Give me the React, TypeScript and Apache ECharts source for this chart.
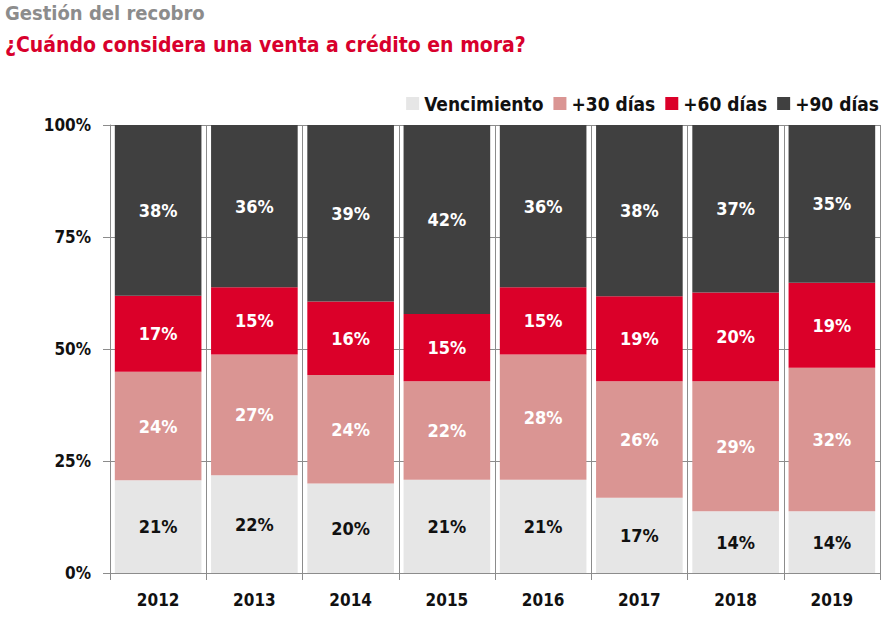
import React, { useEffect, useRef } from "react";
import * as echarts from "echarts";

const years = ["2012", "2013", "2014", "2015", "2016", "2017", "2018", "2019"];
const vencimiento = [20.7, 21.8, 20.0, 20.8, 20.8, 16.8, 13.8, 13.8];
const dias30 = [24.2, 27.0, 24.2, 22.0, 28.0, 26.0, 29.0, 32.0];
const dias60 = [17.0, 15.0, 16.4, 15.0, 15.0, 19.0, 19.8, 19.0];
const dias90 = [38.1, 36.2, 39.4, 42.2, 36.2, 38.2, 37.4, 35.2];
const yTicks = [0, 25, 50, 75, 100];

const FONT = "'Liberation Sans Narrow', 'DejaVu Sans Condensed', sans-serif";

export default function App() {
  const ref = useRef<HTMLDivElement>(null);
  useEffect(() => {
    document.body.style.margin = "0";
    if (!ref.current) return;
    const chart = echarts.init(ref.current, null, { renderer: "svg" });
    const mk = (name: string, data: number[], color: string, labelColor: string) => ({
      name,
      type: "bar",
      stack: "total",
      data,
      barWidth: "90%",
      itemStyle: { color },
      label: {
        show: true,
        position: "inside",
        color: labelColor,
        fontFamily: FONT,
        fontWeight: "bold",
        fontSize: 18,
        formatter: (p: any) => Math.round(p.value) + "%",
      },
    });
    chart.setOption({
      animation: false,
      textStyle: { fontFamily: FONT },
      title: [
        {
          text: "Gestión del recobro",
          left: 5,
          top: 3,
          padding: 0,
          textStyle: { color: "#8c8c8c", fontSize: 20, fontWeight: "bold", fontFamily: FONT },
        },
        {
          text: "¿Cuándo considera una venta a crédito en mora?",
          left: 5,
          top: 34,
          padding: 0,
          textStyle: { color: "#d8002c", fontSize: 21, fontWeight: "bold", fontFamily: FONT },
        },
      ],
      legend: {
        right: 11,
        top: 94,
        padding: 0,
        itemWidth: 13,
        itemHeight: 13,
        itemGap: 10,
        icon: "rect",
        textStyle: { fontSize: 19, fontWeight: "bold", color: "#111", fontFamily: FONT },
        data: ["Vencimiento", "+30 días", "+60 días", "+90 días"],
      },
      grid: { left: 110, right: 10, top: 125, bottom: 45 },
      xAxis: {
        type: "category",
        data: years,
        boundaryGap: true,
        axisLine: { lineStyle: { color: "#8c8c8c", width: 1 } },
        axisTick: { show: true, length: 7, lineStyle: { color: "#8c8c8c" } },
        splitLine: { show: true, lineStyle: { color: "#8c8c8c", width: 1 } },
        axisLabel: { color: "#111", fontSize: 17, fontWeight: "bold", margin: 18, fontFamily: FONT },
      },
      yAxis: {
        type: "value",
        min: 0,
        max: 100,
        interval: 25,
        axisLine: { show: true, lineStyle: { color: "#8c8c8c", width: 1 } },
        axisTick: { show: true, length: 7, lineStyle: { color: "#8c8c8c" } },
        splitLine: { show: true, lineStyle: { color: "#8c8c8c", width: 1 } },
        axisLabel: {
          color: "#111",
          fontSize: 17,
          fontWeight: "bold",
          margin: 19,
          fontFamily: FONT,
          formatter: (v: number) => (yTicks.includes(v) ? v + "%" : ""),
        },
      },
      series: [
        mk("Vencimiento", vencimiento, "#e6e6e6", "#111"),
        mk("+30 días", dias30, "#da9593", "#ffffff"),
        mk("+60 días", dias60, "#db0029", "#ffffff"),
        mk("+90 días", dias90, "#404040", "#ffffff"),
      ],
    });
    return () => chart.dispose();
  }, []);
  return <div ref={ref} style={{ width: 890, height: 618 }} />;
}
